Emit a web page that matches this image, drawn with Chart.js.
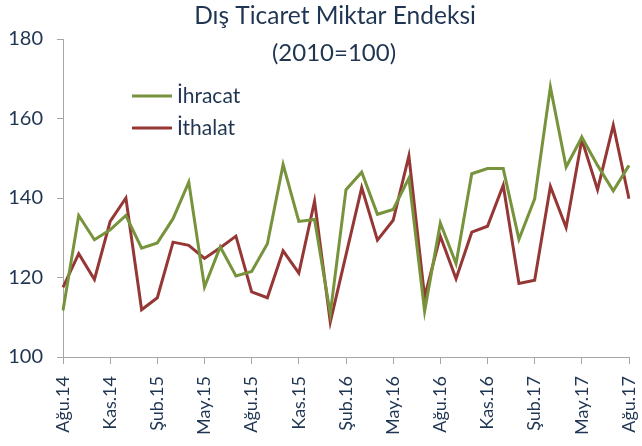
<!DOCTYPE html>
<html>
<head>
<meta charset="utf-8">
<script src="https://cdn.jsdelivr.net/npm/chart.js@4.4.1/dist/chart.umd.min.js"></script>
<style>
html,body{margin:0;padding:0;background:#fff;}
#wrap{width:642px;height:446px;position:relative;}
</style>
</head>
<body>
<div id="wrap"><canvas id="c" width="642" height="446"></canvas></div>
<script>
const months = ["Ağu.14","Eyl.14","Eki.14","Kas.14","Ara.14","Oca.15","Şub.15","Mar.15","Nis.15","May.15","Haz.15","Tem.15",
"Ağu.15","Eyl.15","Eki.15","Kas.15","Ara.15","Oca.16","Şub.16","Mar.16","Nis.16","May.16","Haz.16","Tem.16",
"Ağu.16","Eyl.16","Eki.16","Kas.16","Ara.16","Oca.17","Şub.17","Mar.17","Nis.17","May.17","Haz.17","Tem.17","Ağu.17"];
const ihracat = [111.7,135.6,129.5,132.0,135.6,127.4,128.7,134.8,144.0,117.6,127.7,120.4,
121.5,128.5,148.4,134.1,134.6,110.9,142.1,146.5,135.9,137.1,145.0,111.5,
133.7,123.5,146.1,147.4,147.4,129.6,139.8,167.9,147.8,155.3,148.2,141.8,148.2];
const ithalat = [117.5,126.0,119.5,134.1,140.0,111.9,114.9,128.9,128.1,124.8,127.5,130.4,
116.4,114.9,126.7,121.1,139.2,108.8,125.7,142.6,129.4,134.4,150.6,115.1,
130.4,119.7,131.4,132.9,143.2,118.5,119.3,142.9,132.6,154.7,142.1,158.3,139.8];
const yTicks = [100,120,140,160,180];
const seriesNames = ["İhracat","İthalat"];
const colors = ["#77933C","#953735"];
const titleText = "Dış Ticaret Miktar Endeksi";
const subtitleText = "(2010=100)";
const FONT = "Lato, 'Open Sans', sans-serif";
const TEXTC = "#1F3552";

const overlay = {
  id:'overlay',
  afterDraw(chart){
    const ctx = chart.ctx;
    ctx.save();
    ctx.fillStyle = TEXTC;
    ctx.textAlign = 'center';
    ctx.textBaseline = 'middle';
    ctx.font = "24.5px " + FONT;
    ctx.fillText(titleText, 335, 16);
    ctx.font = "24px " + FONT;
    ctx.fillText(subtitleText, 334, 53);
    chart.data.datasets.forEach((ds,i)=>{
      const y = 96 + i*32;
      ctx.strokeStyle = ds.borderColor;
      ctx.lineWidth = 3;
      ctx.beginPath(); ctx.moveTo(132,y); ctx.lineTo(172,y); ctx.stroke();
      ctx.textAlign='left';
      ctx.font = "21px " + FONT;
      ctx.fillText(ds.label, 177, y);
    });
    ctx.restore();
  }
};

new Chart(document.getElementById('c'), {
  type:'line',
  data:{
    labels: months,
    datasets:[
      {label:seriesNames[0], data:ihracat, borderColor:colors[0], borderWidth:3, pointRadius:0, tension:0, fill:false},
      {label:seriesNames[1], data:ithalat, borderColor:colors[1], borderWidth:3, pointRadius:0, tension:0, fill:false}
    ]
  },
  options:{
    responsive:false,
    animation:false,
    layout:{padding:{top:39,left:0,right:13,bottom:0}},
    plugins:{legend:{display:false}, tooltip:{enabled:false}, title:{display:false}},
    scales:{
      x:{
        offset:false,
        afterBuildTicks(scale){ scale.ticks = scale.ticks.filter((t,i)=>i%3===0); },
        afterFit(scale){ scale.height = 89; scale.paddingLeft = 0; scale.paddingRight = 0; },
        border:{display:true,color:'#A6A6A6',width:1},
        grid:{display:true, drawOnChartArea:false, drawTicks:true, tickLength:7, color:'#A6A6A6'},
        ticks:{autoSkip:false, maxRotation:90, minRotation:90, padding:12, color:TEXTC, font:{family:FONT, size:18}}
      },
      y:{
        min:100, max:180,
        afterBuildTicks(scale){ scale.ticks = yTicks.map(v=>({value:v})); },
        afterFit(scale){ scale.width = 63; },
        border:{display:true,color:'#A6A6A6',width:1},
        grid:{display:true, drawOnChartArea:false, drawTicks:true, tickLength:6, color:'#A6A6A6'},
        ticks:{padding:14, color:TEXTC, font:{family:FONT, size:20}}
      }
    }
  },
  plugins:[overlay]
});
</script>
</body>
</html>
